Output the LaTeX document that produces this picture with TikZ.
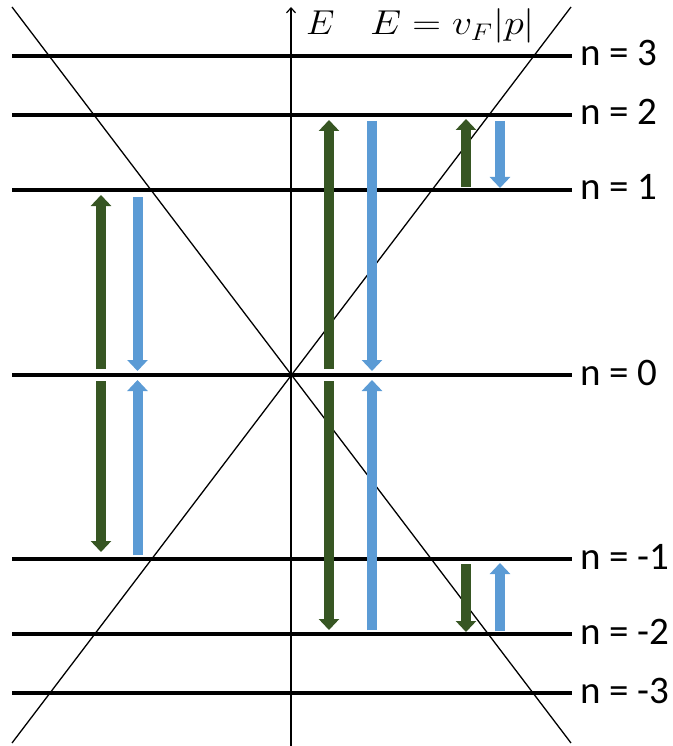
\documentclass[tikz,border=0pt]{standalone}
\usepackage{fontspec}
\usepackage{graphicx}
\setsansfont{Carlito}
\usetikzlibrary{arrows.meta}
\definecolor{dgreen}{HTML}{375623}
\definecolor{lblue}{HTML}{5B9BD5}
\begin{document}
\begin{tikzpicture}[x=1pt,y=-1pt,
  level/.style={line width=4pt},
  diag/.style={line width=1.3pt},
  axisline/.style={line width=1.4pt,-{Straight Barb[length=5pt,width=9pt,line width=1.2pt]}},
  lab/.style={anchor=base west,inner sep=0pt,font=\sffamily\fontsize{39}{45}\selectfont},
  elab/.style={anchor=base west,inner sep=0pt},
  gr/.style={dgreen,line width=10pt,-{Triangle[width=20pt,length=11pt]}},
  bl/.style={lblue,line width=10pt,-{Triangle[width=20pt,length=11pt]}}]
\useasboundingbox (0,0) rectangle (672,746);
% energy levels
\foreach \y/\t/\nm in {56/3/p3,115/2/p2,190/1/p1,375/0/z0,559/-1/m1,634/-2/m2,693/-3/m3}{
  \coordinate (L\nm) at (12,\y);
  \coordinate (R\nm) at (572,\y);
  \draw[level] (L\nm) -- (R\nm);
  \node[lab] (lab\nm) at (580,\y+10) {n = \t};
}
% dispersion lines
\coordinate (tl) at (12,7);
\coordinate (br) at (571,743);
\coordinate (bl) at (12,743);
\coordinate (tr) at (571,7);
\draw[diag] (tl) -- (br);
\draw[diag] (bl) -- (tr);
% axis
\coordinate (ax0) at (291,746);
\coordinate (ax1) at (291,7);
\draw[axisline] (ax0) -- (ax1);
\node[elab] (E) at (306,35) {\scalebox{2.1}[2]{\fontsize{17}{20}\selectfont$E$}};
\node[elab] (disp) at (370,35) {\scalebox{2.3}[2]{\fontsize{17}{20}\selectfont$E = v_F|p|$}};
% left pair
\draw[gr] (101,369) -- (101,195);
\draw[gr] (101,381) -- (101,552);
\draw[bl] (137.5,197) -- (137.5,371);
\draw[bl] (137.5,555) -- (137.5,380);
% middle pair
\draw[gr] (329,369) -- (329,120);
\draw[gr] (329,381) -- (329,630);
\draw[bl] (372,121) -- (372,371);
\draw[bl] (372,630) -- (372,380);
% right top pair
\draw[gr] (466,187) -- (466,119);
\draw[bl] (500,121) -- (500,188);
% right bottom pair
\draw[gr] (466,564) -- (466,632);
\draw[bl] (500,631) -- (500,563);
\end{tikzpicture}
\end{document}
